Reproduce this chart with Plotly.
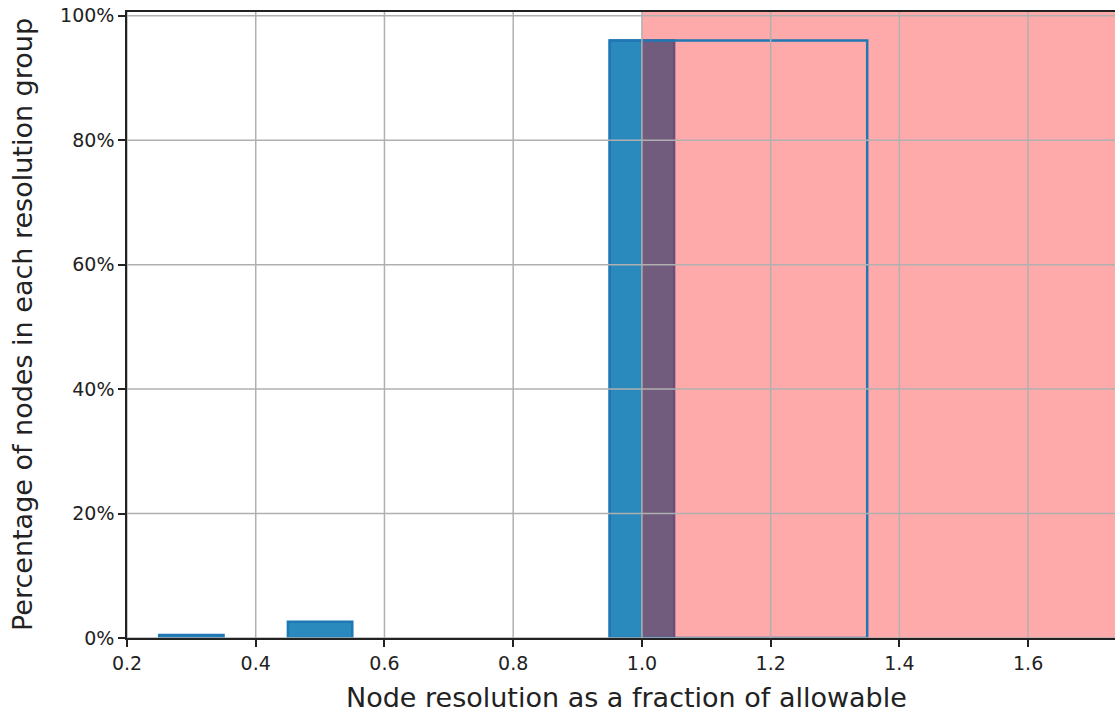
import plotly.graph_objects as go

# Data
bin_centers = [0.3, 0.5, 1.0]
bin_width = 0.1
pct_nodes = [0.5, 2.6, 96.0]

outline_center = [1.15]
outline_width = 0.4
outline_pct = [96.0]

allowable = 1.0
x_ticks = [0.2, 0.4, 0.6, 0.8, 1.0, 1.2, 1.4, 1.6]
x_tick_text = ["0.2", "0.4", "0.6", "0.8", "1.0", "1.2", "1.4", "1.6"]
y_ticks = [0, 20, 40, 60, 80, 100]
y_tick_text = ["0%", "20%", "40%", "60%", "80%", "100%"]

x_range = [0.2, 1.735]
y_range = [0, 100.6]

blue = "#1f77b4"
fill_blue = "#2a8abe"
grid = "#b0b0b0"
font = "DejaVu Sans"
ink = "#222222"

fig = go.Figure()
fig.add_trace(go.Bar(x=bin_centers, y=pct_nodes, width=bin_width,
                     marker=dict(color=fill_blue, line=dict(color=blue, width=2.5)),
                     showlegend=False, hoverinfo="skip"))
# red region beyond allowable (drawn as a wide bar so it stays under the outline)
red_width = 4.0
fig.add_trace(go.Bar(x=[allowable + red_width / 2], y=[300], base=[-50], width=red_width,
                     marker=dict(color="rgba(255,0,0,0.333)", line=dict(width=0)),
                     showlegend=False, hoverinfo="skip"))
fig.add_trace(go.Bar(x=outline_center, y=outline_pct, width=outline_width,
                     marker=dict(color="rgba(0,0,0,0)", line=dict(color=blue, width=2.5)),
                     showlegend=False, hoverinfo="skip"))

shapes = []
for xv in x_ticks:
    shapes.append(dict(type="line", xref="x", yref="paper", x0=xv, x1=xv, y0=0, y1=1,
                       line=dict(color=grid, width=1.5), layer="above"))
for yv in y_ticks:
    shapes.append(dict(type="line", xref="paper", yref="y", x0=0, x1=1, y0=yv, y1=yv,
                       line=dict(color=grid, width=1.5), layer="above"))

annotations = [
    dict(text="Node resolution as a fraction of allowable", xref="paper", yref="paper",
         x=0.5, y=0, xanchor="center", yanchor="middle", xshift=5, yshift=-59,
         showarrow=False, font=dict(size=27, family=font, color=ink)),
    dict(text="Percentage of nodes in each resolution group", xref="paper", yref="paper",
         x=0, y=0.5, xanchor="center", yanchor="middle", xshift=-105, textangle=-90,
         showarrow=False, font=dict(size=27, family=font, color=ink)),
]

fig.update_layout(
    width=1115, height=712,
    margin=dict(l=127, r=0, t=12, b=74),
    plot_bgcolor="white", paper_bgcolor="white",
    barmode="overlay",
    shapes=shapes,
    annotations=annotations,
    font=dict(family=font, color=ink, size=19),
    xaxis=dict(range=x_range, tickvals=x_ticks, ticktext=x_tick_text, automargin=False,
               showgrid=False, zeroline=False, showline=True, linecolor=ink,
               linewidth=1.5, mirror=True, ticks="outside", ticklen=7, tickwidth=1.5,
               tickcolor=ink, tickfont=dict(size=19), ticklabeloverflow="allow"),
    yaxis=dict(range=y_range, tickvals=y_ticks, ticktext=y_tick_text, automargin=False,
               showgrid=False, zeroline=False, showline=True, linecolor=ink,
               linewidth=1.5, ticks="outside", ticklen=7, tickwidth=1.5,
               tickcolor=ink, tickfont=dict(size=19), ticklabeloverflow="allow"),
)

fig.write_html("out.html", config={"displayModeBar": False},
               post_script="document.body.style.margin='0';document.body.style.overflow='hidden';")
